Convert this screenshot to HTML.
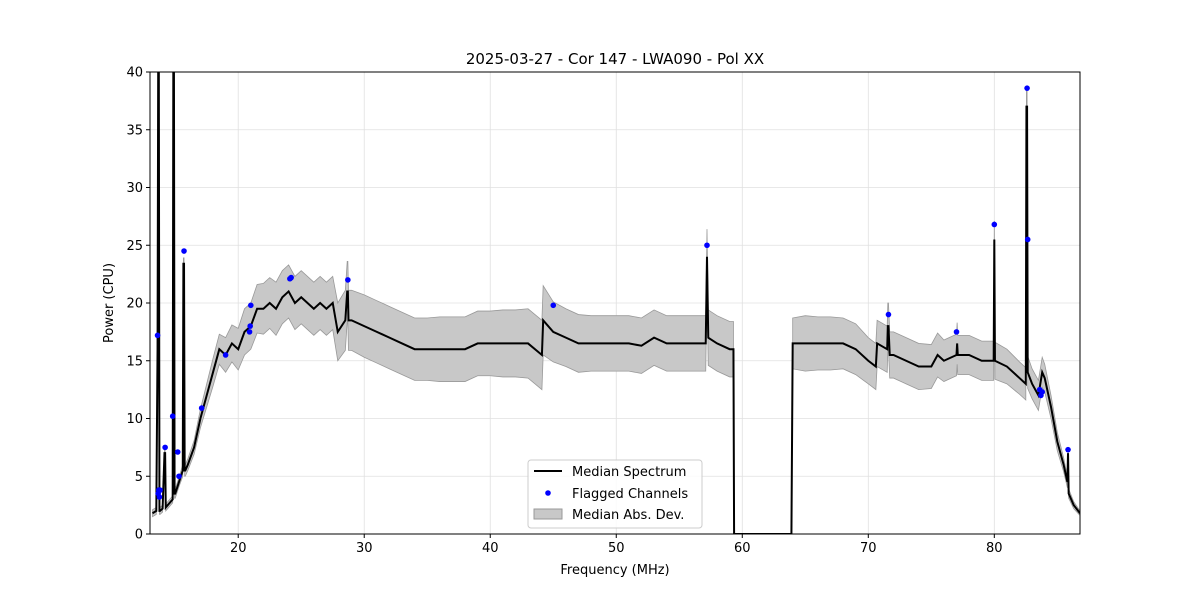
<!DOCTYPE html>
<html><head><meta charset="utf-8"><style>
body{margin:0;background:#fff;font-family:"Liberation Sans","DejaVu Sans",sans-serif}
svg text{font-family:"DejaVu Sans","Liberation Sans",sans-serif}
</style></head><body>
<svg id="c" width="1200" height="600"></svg>
<script>
const freqs=[13.2,13.5,13.6,13.65,13.7,13.75,13.8,14,14.15,14.2,14.25,14.8,14.85,14.9,14.95,15.0,15.3,15.6,15.65,15.7,15.75,15.8,16,16.5,17,17.5,18,18.5,19,19.5,20,20.5,21,21.5,22,22.5,23,23.5,24,24.5,25,25.5,26,26.5,27,27.5,27.9,28.5,28.65,28.7,28.75,29,30,31,32,33,34,35,36,37,38,39,40,41,42,43,44.1,44.2,45,46,47,48,49,50,51,52,53,54,55,56,57.1,57.2,57.3,58,59,59.3,59.35,63.9,64,65,66,67,68,69,70,70.6,70.7,71.5,71.55,71.6,71.7,72,73,74,75,75.5,76,77,77.05,77.1,78,79,79.95,80,80.05,81,82,82.5,82.55,82.6,82.65,83,83.5,83.8,84,84.5,85,85.5,85.8,85.85,85.9,86.3,86.8];
const median=[1.8,2,16,40,40,2,2,2.2,7,7,2.3,3,40,40,3.5,3.5,4.5,5.5,23.4,23.4,5.5,5.5,6,7.5,10,12,14,16,15.5,16.5,16,17.5,18,19.5,19.5,20,19.5,20.5,21,20,20.5,20,19.5,20,19.5,20,17.5,18.5,21,21,18.5,18.5,18,17.5,17,16.5,16,16,16,16,16,16.5,16.5,16.5,16.5,16.5,15.5,18.5,17.5,17,16.5,16.5,16.5,16.5,16.5,16.3,17,16.5,16.5,16.5,16.5,24,17,16.5,16,16,0,0,16.5,16.5,16.5,16.5,16.5,16,15,14.5,16.5,16,18,18,15.5,15.5,15,14.5,14.5,15.5,15,15.5,16.5,15.5,15.5,15,15,25.5,15,14.5,13.5,13,37,37,14,13,12,14,13.5,11,8,6,4.5,7,3.5,2.5,1.8];
const mad=[0.3,0.3,0.5,0.5,0.5,0.3,0.3,0.3,0.3,0.3,0.3,0.3,0.5,0.5,0.4,0.4,0.4,0.5,0.5,0.5,0.5,0.5,0.5,0.6,0.8,1,1.2,1.3,1.5,1.6,1.8,2,2,2.1,2.2,2.2,2.3,2.3,2.3,2.3,2.3,2.3,2.3,2.3,2.3,2.3,2.5,2.6,2.6,2.6,2.6,2.6,2.7,2.7,2.7,2.7,2.7,2.7,2.8,2.8,2.8,2.8,2.8,2.9,2.9,3,3,3,2.6,2.5,2.5,2.4,2.4,2.4,2.4,2.4,2.4,2.4,2.4,2.4,2.4,2.4,2.4,2.4,2.4,2.4,2.4,0,0,2.4,2.3,2.3,2.2,2.2,2,2,2,2,2,2,2,2,2,2,1.9,1.9,1.8,1.8,1.8,1.7,1.7,1.7,1.7,1.6,1.6,1.5,1.4,1.4,1.4,1.4,1.4,1.3,1.3,1.3,1.2,1,0.8,0.6,0.5,0.4,0.4,0.3,0.2];
const flagF=[13.6,13.7,13.75,13.8,13.65,14.2,14.8,15.2,15.3,15.7,17.1,19,20.9,21,20.95,24.1,24.2,28.7,45,57.2,71.6,77,80,82.6,82.65,83.6,83.7,83.8,85.85];
const flagV=[17.2,3.8,3.2,3.8,3.5,7.5,10.2,7.1,5,24.5,10.9,15.5,17.5,19.8,18,22.1,22.2,22,19.8,25,19,17.5,26.8,38.6,25.5,12.5,12,12.3,7.3];
const xTicks=[20,30,40,50,60,70,80];
const yTicks=[0,5,10,15,20,25,30,35,40];
const L=150,R=1080,T=72,B=534,xmin=13,xmax=86.8,ymin=0,ymax=40;
const X=v=>L+(v-xmin)/(xmax-xmin)*(R-L), Y=v=>B-(v-ymin)/(ymax-ymin)*(B-T);
const NS="http://www.w3.org/2000/svg",svg=document.getElementById('c');
function mk(t,a,p){const e=document.createElementNS(NS,t);for(const k in a)e.setAttribute(k,a[k]);(p||svg).appendChild(e);return e;}
const defs=mk('defs',{});const cp=mk('clipPath',{id:'cp'},defs);mk('rect',{x:L,y:T,width:R-L,height:B-T},cp);
xTicks.forEach(v=>{const g=mk('line',{x1:X(v),x2:X(v),y1:T,y2:B,stroke:'#e0e0e0','stroke-width':0.8});

});
yTicks.forEach(v=>{const g=mk('line',{x1:L,x2:R,y1:Y(v),y2:Y(v),stroke:'#e0e0e0','stroke-width':0.8});

});
const plot=mk('g',{'clip-path':'url(#cp)'});
const md=i=>{const m=mad[i];return (m===undefined||m===0)?2.2:m;};
let segs=[],cur=[];
freqs.forEach((f,i)=>{if(median[i]>0)cur.push(i);else{if(cur.length)segs.push(cur);cur=[];}});
if(cur.length)segs.push(cur);
segs.forEach(s=>{
const up=s.map(i=>X(freqs[i])+','+Y(median[i]+md(i)));
const lo=s.map(i=>X(freqs[i])+','+Y(Math.max(0,median[i]-md(i)))).reverse();
const band=mk('polygon',{points:up.concat(lo).join(' '),fill:'#c8c8c8',stroke:'#999','stroke-width':0.8},plot);


});
const line=mk('polyline',{points:freqs.map((f,i)=>X(f)+','+Y(median[i])).join(' '),fill:'none',stroke:'#000','stroke-width':2},plot);


flagF.forEach((f,i)=>{const c=mk('circle',{cx:X(f),cy:Y(flagV[i]),r:2.8,fill:'#0000ff'},plot);

});
const fr=mk('rect',{x:L,y:T,width:R-L,height:B-T,fill:'none',stroke:'#000','stroke-width':1});


xTicks.forEach(v=>{mk('line',{x1:X(v),x2:X(v),y1:B,y2:B+4,stroke:'#000'});
const t=mk('text',{x:X(v),y:B+18,'text-anchor':'middle','font-size':13});t.textContent=v;

});
yTicks.forEach(v=>{mk('line',{x1:L-4,x2:L,y1:Y(v),y2:Y(v),stroke:'#000'});
const t=mk('text',{x:L-7,y:Y(v)+4.5,'text-anchor':'end','font-size':13});t.textContent=v;

});
</script>
<svg width="1200" height="600" style="position:absolute;left:0;top:0">
<text x="615" y="64" text-anchor="middle" font-size="15">2025-03-27 - Cor 147 - LWA090 - Pol XX</text>
<text x="615" y="574" text-anchor="middle" font-size="13">Frequency (MHz)</text>
<text transform="translate(113,303) rotate(-90)" text-anchor="middle" font-size="13">Power (CPU)</text>
<g>
<rect x="528" y="460" width="174" height="68" rx="3" fill="#fff" fill-opacity="0.85" stroke="#ccc"/>
<line x1="534" y1="471" x2="562" y2="471" stroke="#000" stroke-width="2"/>
<text x="572" y="476" font-size="13">Median Spectrum</text>
<circle cx="548" cy="493" r="2.8" fill="#00f"/>
<text x="572" y="498" font-size="13">Flagged Channels</text>
<rect x="534" y="509" width="28" height="10" fill="#c8c8c8" stroke="#999"/>
<text x="572" y="519" font-size="13">Median Abs. Dev.</text>
</g>
</svg>
</body></html>
